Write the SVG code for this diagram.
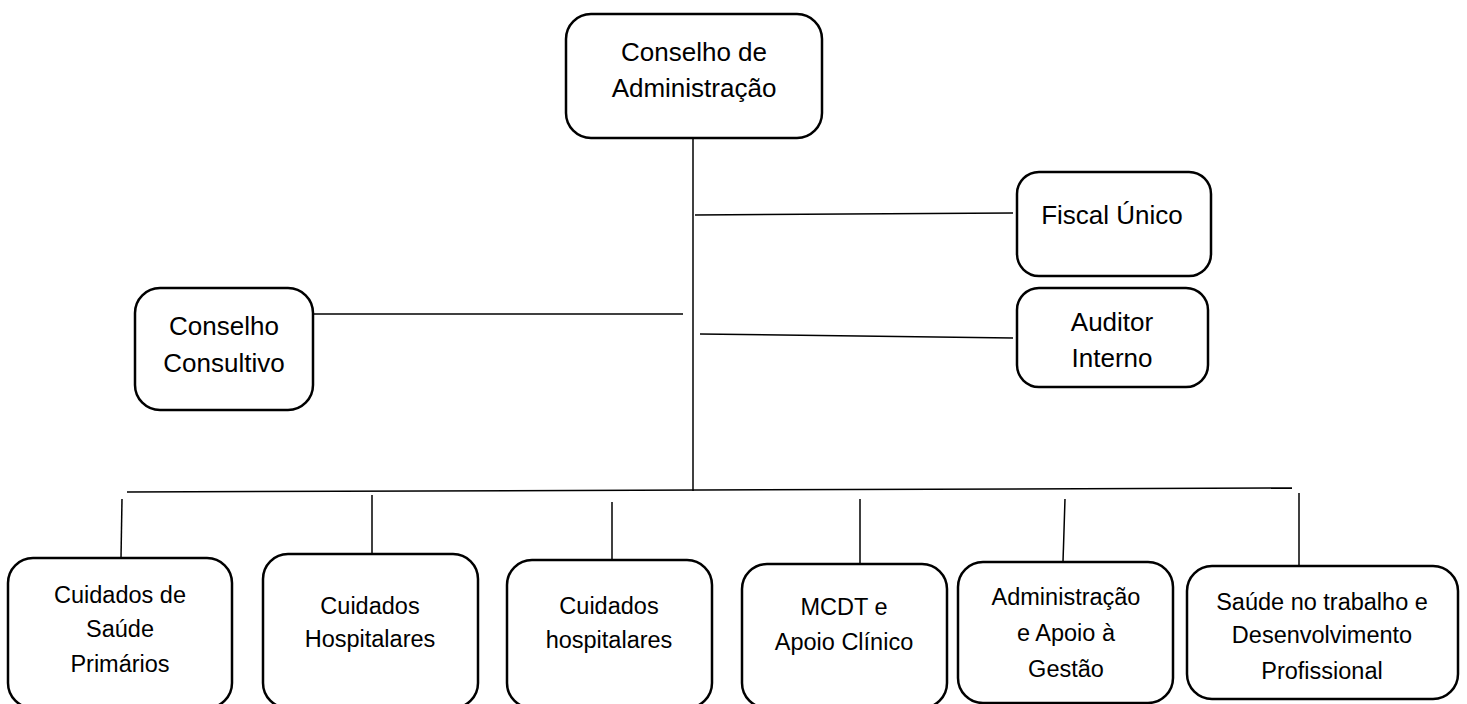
<svg xmlns="http://www.w3.org/2000/svg" width="1467" height="704" viewBox="0 0 1467 704">
<style>
.box{fill:#fff;stroke:#000;stroke-width:2.5}
.ln{stroke:#000;stroke-width:1.5;fill:none}
.t{font-family:"Liberation Sans",Arial,sans-serif;text-anchor:middle;fill:#000}
.big{font-size:26px}
.sm{font-size:23.5px}
</style>
<rect width="1467" height="704" fill="#fff"/>
<g id="connectors">
<line class="ln" x1="693" y1="138" x2="693" y2="491"/>
<line class="ln" x1="695" y1="215" x2="1013" y2="213"/>
<line class="ln" x1="700" y1="334" x2="1013" y2="338"/>
<line class="ln" x1="313" y1="314" x2="683" y2="314"/>
<line class="ln" x1="127" y1="492" x2="1292" y2="488"/>
<line class="ln" x1="122" y1="499" x2="121" y2="558"/>
<line class="ln" x1="372" y1="495" x2="372" y2="554"/>
<line class="ln" x1="612" y1="502" x2="612" y2="560"/>
<line class="ln" x1="860" y1="499" x2="860" y2="564"/>
<line class="ln" x1="1065" y1="499" x2="1063" y2="562"/>
<line class="ln" x1="1299" y1="493" x2="1299" y2="566"/>
</g>
<g id="conselho-administracao">
<rect class="box" x="566" y="14" width="256" height="124" rx="25"/>
<text class="t big" x="694" y="61">Conselho de</text>
<text class="t big" x="694" y="97">Administração</text>
</g>
<g id="fiscal-unico">
<rect class="box" x="1017" y="172" width="194" height="104" rx="22"/>
<text class="t big" x="1112" y="224">Fiscal Único</text>
</g>
<g id="auditor-interno">
<rect class="box" x="1017" y="288" width="191" height="99" rx="22"/>
<text class="t big" x="1112" y="331">Auditor</text>
<text class="t big" x="1112" y="367">Interno</text>
</g>
<g id="conselho-consultivo">
<rect class="box" x="135" y="288" width="178" height="122" rx="25"/>
<text class="t big" x="224" y="335">Conselho</text>
<text class="t big" x="224" y="372">Consultivo</text>
</g>
<g id="cuidados-saude-primarios">
<rect class="box" x="8" y="558" width="224" height="150" rx="25"/>
<text class="t sm" x="120" y="603">Cuidados de</text>
<text class="t sm" x="120" y="637">Saúde</text>
<text class="t sm" x="120" y="672">Primários</text>
</g>
<g id="cuidados-hospitalares-1">
<rect class="box" x="263" y="554" width="215" height="154" rx="25"/>
<text class="t sm" x="370" y="614">Cuidados</text>
<text class="t sm" x="370" y="647">Hospitalares</text>
</g>
<g id="cuidados-hospitalares-2">
<rect class="box" x="507" y="560" width="205" height="148" rx="25"/>
<text class="t sm" x="609" y="614">Cuidados</text>
<text class="t sm" x="609" y="648">hospitalares</text>
</g>
<g id="mcdt">
<rect class="box" x="742" y="564" width="205" height="144" rx="25"/>
<text class="t sm" x="844" y="615">MCDT e</text>
<text class="t sm" x="844" y="650">Apoio Clínico</text>
</g>
<g id="administracao-apoio">
<rect class="box" x="958" y="562" width="215" height="141" rx="25"/>
<text class="t sm" x="1066" y="605">Administração</text>
<text class="t sm" x="1066" y="641">e Apoio à</text>
<text class="t sm" x="1066" y="677">Gestão</text>
</g>
<g id="saude-trabalho">
<rect class="box" x="1187" y="566" width="271" height="133" rx="25"/>
<text class="t sm" x="1322" y="610">Saúde no trabalho e</text>
<text class="t sm" x="1322" y="643">Desenvolvimento</text>
<text class="t sm" x="1322" y="679">Profissional</text>
</g>
</svg>
